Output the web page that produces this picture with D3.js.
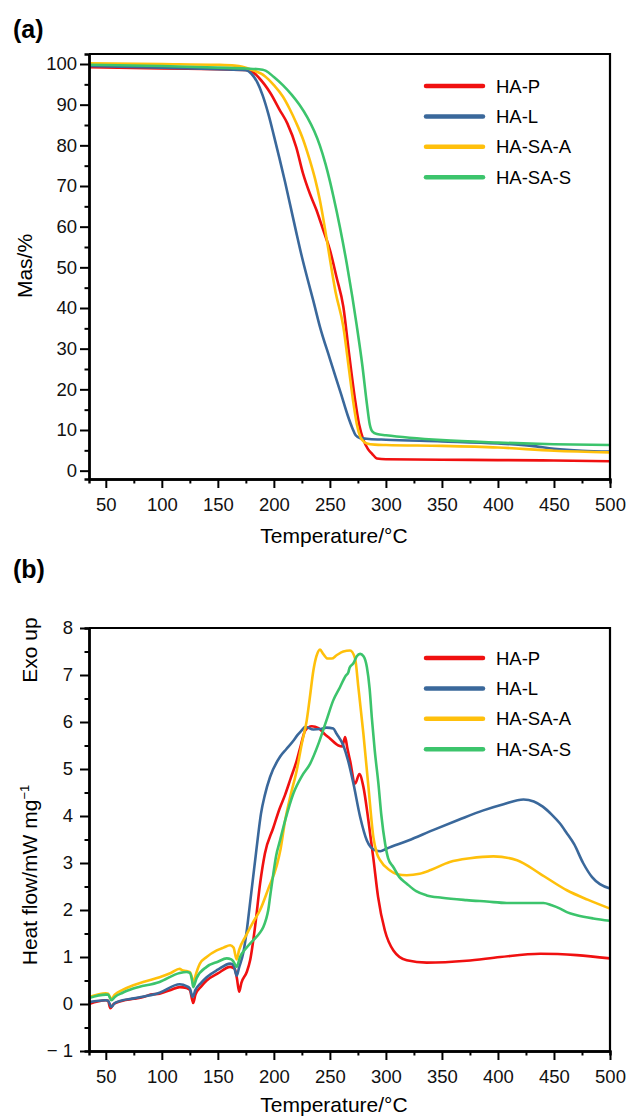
<!DOCTYPE html>
<html>
<head>
<meta charset="utf-8">
<script src="https://cdn.jsdelivr.net/npm/d3@7"></script>
<style>
  body { margin: 0; background: #fff; }
  svg { display: block; font-family: "Liberation Sans", Arial, Helvetica, sans-serif; }
</style>
</head>
<body>
<div id="chart"></div>
<script>
var w = 629,
    h = 1117;

// series names and colours
var names = ["HA-P", "HA-L", "HA-SA-A", "HA-SA-S"];
var colors = ["#f01010", "#3a689b", "#ffc00b", "#3cc46c"];

// x ticks (temperature, °C)
var xTicks = [50, 100, 150, 200, 250, 300, 350, 400, 450, 500];
var xMinor = [75, 125, 175, 225, 275, 325, 375, 425, 475];

// (a) TGA, mass %
var tgaTicks = [0, 10, 20, 30, 40, 50, 60, 70, 80, 90, 100];
var tgaMinor = [5, 15, 25, 35, 45, 55, 65, 75, 85, 95];

var tgaP = [[35,99.2],[100,98.9],[150,98.7],[178,98.5],[187,96.5],[197,92.8],[205,88.8],[212,85.4],[220,79.5],[226,73.1],
  [232,68.2],[238,64.1],[244,59.2],[250,54.3],[256,47.5],[262,40.3],[267,29],[272.5,17.4],[276,11.5],[280,7.5],
  [284,5.3],[287.5,4.2],[292,3.0],[300,2.8],[350,2.7],[400,2.6],[450,2.5],[500,2.3]];
var tgaL = [[35,99.5],[100,99.1],[150,98.7],[175,98.5],[180,97.6],[185,95.6],[190,92.3],[195,87.8],[200,82.4],[205,76.8],
  [210,71.0],[215,64.8],[220,58.6],[225,52.6],[230,47.2],[235,42.0],[241,35.5],[250,27.5],[260,18.8],[266,13.5],
  [270,10.5],[273,8.7],[277,8.0],[285,7.8],[300,7.6],[350,7.2],[400,6.7],[430,6.1],[450,5.4],[475,4.9],[500,4.7]];
var tgaSA = [[35,100.2],[100,100.0],[150,99.8],[165,99.6],[172,99.3],[180,98.6],[192,97.0],[200,94.8],[208,92],[214,89],
  [220,85.5],[226,81.5],[232,76.4],[237,71.5],[241,66.6],[245,60.5],[248.7,54.3],[255,44],[262,35.4],[267,25],
  [271,16.6],[274,11.5],[277,8.4],[280,7.2],[283,6.7],[290,6.4],[300,6.3],[350,6.1],[400,5.7],[450,4.9],[500,4.5]];
var tgaSS = [[35,99.8],[100,99.5],[150,99.1],[175,98.9],[190,98.6],[193,98.3],[200,96.8],[208,94.8],[216,92.4],[223,89.9],
  [230,86.8],[236,83.5],[241,80.0],[246,75.5],[250,71.2],[253,67.6],[259,59.8],[265,51.0],[270,42.8],[274,35.6],
  [279,25.8],[283,16.5],[285.5,11.5],[288,9.6],[292,9.0],[300,8.7],[350,7.5],[400,6.9],[450,6.5],[500,6.3]];

// (b) DSC, heat flow mW/mg
var dscTicks = [-1, 0, 1, 2, 3, 4, 5, 6, 7, 8];
var dscMinor = [-0.5, 0.5, 1.5, 2.5, 3.5, 4.5, 5.5, 6.5, 7.5];

var dscP = [[35,0.0],[50,0.08],[52,0.07],[54,-0.09],[57,0.0],[65,0.07],[75,0.11],[85,0.16],[90,0.2],[98,0.22],
  [108,0.3],[116,0.36],[122,0.34],[125,0.3],[127,0.1],[128,0.02],[130,0.2],[135,0.37],[140,0.5],[150,0.65],
  [161,0.79],[165,0.75],[167,0.55],[169,0.26],[171,0.45],[175.8,0.68],[178.8,0.93],[183.2,1.64],[187.7,2.56],[192,3.2],
  [199.5,3.75],[205,4.15],[210,4.45],[215,4.8],[220.4,5.18],[224,5.5],[228,5.82],[233.8,5.91],[239.8,5.87],[245,5.75],
  [250,5.65],[257.6,5.5],[261,5.48],[263.6,5.68],[265.5,5.45],[268,5.18],[272.5,4.69],[276.3,4.89],[279.9,4.62],[284.4,3.9],
  [288.8,3.1],[293,2.28],[299,1.57],[306.7,1.14],[318.6,0.93],[336.4,0.88],[372,0.92],[402,1.0],[437.7,1.07],[470.4,1.04],[500,0.97]];
var dscL = [[35,0.04],[50,0.08],[52,0.07],[55,-0.06],[58,0.02],[65,0.08],[75,0.12],[98,0.24],[116,0.42],[122,0.38],
  [125,0.33],[127.5,0.15],[130,0.3],[135,0.45],[140,0.57],[150,0.73],[161,0.86],[164,0.82],[166.8,0.6],[169,0.78],
  [172.8,1.1],[176,1.6],[178.5,2.1],[181,2.6],[183.5,3.1],[186,3.6],[188.5,4.05],[192,4.45],[196.6,4.83],[205.5,5.26],
  [211,5.42],[217.4,5.6],[221,5.72],[224.8,5.82],[228,5.9],[235.2,5.84],[241,5.85],[247,5.88],[253,5.86],[256,5.75],
  [262,5.5],[266,5.2],[271,4.69],[277,3.98],[283,3.48],[290.4,3.27],[295,3.25],[300.8,3.31],[320,3.48],[342,3.7],
  [365,3.92],[387,4.12],[405,4.25],[422.8,4.35],[432,4.31],[440,4.2],[448,4.03],[455,3.85],[461,3.65],[468,3.4],
  [476,3.0],[484,2.7],[491,2.55],[500,2.46]];
var dscSA = [[35,0.15],[50,0.23],[52,0.22],[55,0.11],[58,0.2],[65,0.3],[74.6,0.4],[85,0.48],[98,0.57],[108,0.66],
  [116,0.75],[118,0.72],[122,0.7],[125,0.68],[127,0.55],[128,0.42],[130,0.6],[134,0.86],[140,1.0],[149,1.14],
  [155,1.2],[161,1.25],[164,1.2],[166.8,0.95],[169,1.15],[175,1.45],[181,1.72],[187.7,2.0],[195,2.45],[202.6,2.95],
  [206,3.3],[210,3.9],[215,4.45],[220.4,4.97],[225,5.55],[229.3,6.03],[232,6.5],[235.3,7.1],[238,7.4],[241.2,7.54],
  [244,7.45],[248,7.35],[251.6,7.35],[256,7.42],[262,7.5],[268,7.52],[272.5,7.35],[275.4,6.74],[279.9,5.75],[284.4,4.62],
  [288.8,3.55],[292,3.2],[294.8,3.06],[303.7,2.84],[310,2.76],[318.6,2.74],[330,2.77],[340,2.85],[357,3.02],[375,3.1],
  [396,3.14],[417,3.06],[437.7,2.77],[461.5,2.42],[480,2.22],[500,2.03]];
var dscSS = [[35,0.13],[50,0.2],[52,0.2],[55,0.08],[58,0.15],[65,0.24],[74.6,0.33],[98,0.47],[116,0.66],[122,0.68],
  [125,0.66],[127,0.5],[128,0.36],[131,0.55],[140,0.79],[150,0.9],[157.9,0.97],[162,0.95],[164,0.9],[166.8,0.79],
  [169.8,1.0],[175,1.18],[181.7,1.36],[187,1.5],[190.6,1.64],[193,1.8],[195,2.0],[197,2.35],[199.5,2.77],[202,3.15],
  [205.5,3.48],[210,3.9],[217.4,4.48],[225,4.85],[232.3,5.11],[240,5.55],[247,6.04],[253,6.46],[259,6.74],[264,6.98],
  [266.5,7.06],[267.5,7.15],[271,7.25],[274,7.4],[277,7.45],[280,7.4],[283,7.17],[285.5,6.7],[287.4,6.1],[290,5.4],
  [293.3,4.69],[296,4.0],[299.3,3.41],[302,3.1],[306.7,2.91],[312,2.7],[318.6,2.56],[327,2.4],[336.4,2.31],[350,2.26],
  [372,2.21],[390,2.18],[407.8,2.15],[425,2.15],[440.6,2.15],[448,2.1],[455.5,2.03],[462,1.95],[470.4,1.89],[485,1.82],[500,1.77]];

var svg = d3.select("#chart")
  .append("svg")
  .attr("width", w)
  .attr("height", h);

var left = 89, right = 610;

var x = d3.scaleLinear().domain([35, 500]).range([left, right]);

function panel(opts) {
  var y = opts.y;
  var top = y.range()[1], bottom = y.range()[0];

  // lines
  var line = d3.line()
    .x(function(d) { return x(d[0]); })
    .y(function(d) { return y(d[1]); })
    .curve(d3.curveMonotoneX);

  svg.append("g").selectAll("path")
    .data(opts.series)
    .enter()
    .append("path")
    .attr("d", line)
    .attr("fill", "none")
    .attr("stroke", function(d, i) { return colors[i]; })
    .attr("stroke-width", 2.6)
    .attr("stroke-linejoin", "round");

  // box top and right
  svg.append("path")
    .attr("d", "M" + left + "," + top + "H" + right + "V" + bottom)
    .attr("fill", "none")
    .attr("stroke", "#000")
    .attr("stroke-width", 2.2);

  // minor ticks
  svg.append("g")
    .attr("transform", "translate(0," + bottom + ")")
    .call(d3.axisBottom(x).tickValues(xMinor).tickSize(4.5).tickFormat(""))
    .call(style);
  svg.append("g")
    .attr("transform", "translate(" + left + ",0)")
    .call(d3.axisLeft(y).tickValues(opts.minor).tickSize(4.5).tickFormat(""))
    .call(style);

  // major axes
  svg.append("g")
    .attr("transform", "translate(0," + bottom + ")")
    .call(d3.axisBottom(x).tickValues(xTicks).tickSize(9).tickSizeOuter(0).tickPadding(10))
    .call(style);
  svg.append("g")
    .attr("transform", "translate(" + left + ",0)")
    .call(d3.axisLeft(y).tickValues(opts.ticks).tickSize(9).tickSizeOuter(0)
      .tickPadding(opts.pad).tickFormat(opts.fmt))
    .call(style);

  // x title
  svg.append("text")
    .attr("x", 334)
    .attr("y", opts.xTitleY)
    .attr("text-anchor", "middle")
    .attr("font-size", "21px")
    .text("Temperature/°C");

  // legend
  var lg = svg.append("g").selectAll("g")
    .data(names)
    .enter()
    .append("g")
    .attr("transform", function(d, i) { return "translate(0," + (opts.legendY + i * 30.4) + ")"; });
  lg.append("line")
    .attr("x1", 426).attr("x2", 483)
    .attr("stroke", function(d, i) { return colors[i]; })
    .attr("stroke-width", 4.5)
    .attr("stroke-linecap", "round");
  lg.append("text")
    .attr("x", 496)
    .attr("dy", "0.36em")
    .attr("font-size", "18.5px")
    .text(function(d) { return d; });

  // panel label
  svg.append("text")
    .attr("x", 13)
    .attr("y", opts.labelY)
    .attr("font-size", "25px")
    .attr("font-weight", "bold")
    .text(opts.label);
}

function style(g) {
  g.select(".domain").attr("stroke-width", 2.4);
  g.selectAll(".tick line").attr("stroke-width", 2);
  g.selectAll(".tick text")
    .attr("font-size", "18.5px")
    .attr("font-family", "'Liberation Sans', Arial, sans-serif")
    .attr("fill", "#111");
}

panel({
  y: d3.scaleLinear().domain([-2.05, 102.46]).range([479, 54]),
  series: [tgaP, tgaL, tgaSA, tgaSS],
  ticks: tgaTicks,
  minor: tgaMinor,
  pad: 3,
  fmt: d3.format("d"),
  xTitleY: 543,
  legendY: 86,
  label: "(a)",
  labelY: 38
});

panel({
  y: d3.scaleLinear().domain([-1, 8]).range([1051, 628]),
  series: [dscP, dscL, dscSA, dscSS],
  ticks: dscTicks,
  minor: dscMinor,
  pad: 7,
  fmt: function(d) { return d < 0 ? "\u2212 " + Math.abs(d) : d; },
  xTitleY: 1112,
  legendY: 658,
  label: "(b)",
  labelY: 578
});

// y titles
svg.append("text")
  .attr("transform", "translate(32,266) rotate(-90)")
  .attr("text-anchor", "middle")
  .attr("font-size", "21px")
  .text("Mas/%");

svg.append("text")
  .attr("transform", "translate(37,650) rotate(-90)")
  .attr("text-anchor", "middle")
  .attr("font-size", "21px")
  .text("Exo up");

var hf = svg.append("text")
  .attr("transform", "translate(37,875) rotate(-90)")
  .attr("text-anchor", "middle")
  .attr("font-size", "21px");
hf.append("tspan").text("Heat flow/mW mg");
hf.append("tspan")
  .attr("font-size", "13px")
  .attr("dy", "-8")
  .text("\u22121");
</script>
</body>
</html>
